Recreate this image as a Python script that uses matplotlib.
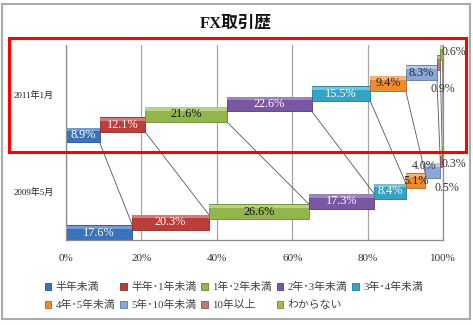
import matplotlib
matplotlib.use("Agg")
import matplotlib.pyplot as plt
from matplotlib.patches import Rectangle, Patch
import numpy as np

plt.rcParams['font.family'] = ['Liberation Serif', 'Noto Sans CJK JP', 'DejaVu Sans']

# ---- data ----
categories = ['2009年5月', '2011年1月']
series = ['半年未満', '半年･1年未満', '1年･2年未満', '2年･3年未満', '3年･4年未満',
          '4年･5年未満', '5年･10年未満', '10年以上', 'わからない']
values_2009 = [17.6, 20.3, 26.6, 17.3, 8.4, 5.1, 4.0, 0.5, 0.3]
values_2011 = [8.9, 12.1, 21.6, 22.6, 15.5, 9.4, 8.3, 0.9, 0.6]
xtick_values = [0, 20, 40, 60, 80, 100]
xtick_labels = ['0%', '20%', '40%', '60%', '80%', '100%']
title = 'FX取引歴'

# ---- style ----
colors = ['#3A72BC', '#BC3E3A', '#93B64C', '#7A57A5', '#35A4C4',
          '#F08A2C', '#8BA7D6', '#BE7A78', '#9BBB59']
highlights = ['#7FA6DA', '#E08A88', '#C4DA92', '#A891C6', '#86CCE0',
              '#F9BE86', '#C3D3EE', '#DDB0AE', '#C6DA9C']
edges = ['#24508A', '#8A2A28', '#6A8A30', '#54397A', '#217A92',
         '#B8621A', '#5A76A6', '#8A5050', '#6A8A30']
text_colors = ['white', 'white', '#111111', 'white', 'white',
               '#222222', '#1E2A4A', '#333333', '#333333']
# offsets (points) for labels of the tiny segments, per category
small_offsets = {
    (0, 6): (-6.5, 3.5), (0, 7): (4, -20), (0, 8): (8, -10),
    (1, 7): (3, -19), (1, 8): (9, 0),
}

bases = [0.0, 0.975]      # vertical base of each category's staircase
step = 0.1035             # vertical step between successive segments
h = 0.148                 # bar thickness

W, H = 473, 325
fig = plt.figure(figsize=(W / 100, H / 100), dpi=100)
ax = fig.add_axes([66 / W, (H - 240) / H, 377 / W, 195 / H])
ax.set_xlim(0, 100)
ax.set_ylim(-0.075, 1.875)

# grid
for xv in xtick_values:
    ax.axvline(xv, color='#A6A6A6' if xv != 0 else '#8C8C8C', lw=0.9, zorder=0)

all_vals = [values_2009, values_2011]
ends = [np.cumsum(v) for v in all_vals]
starts = [e - np.array(v) for e, v in zip(ends, all_vals)]

# series lines (from bottom-right of upper bar to top-right of lower bar)
for i in range(len(series)):
    ax.plot([ends[1][i], ends[0][i]],
            [bases[1] + i * step - h / 2, bases[0] + i * step + h / 2],
            color='#555555', lw=0.6, zorder=1)

for c, vals in enumerate(all_vals):
    for i, v in enumerate(vals):
        y = bases[c] + i * step
        ax.barh(y, v, left=starts[c][i], height=h, color=colors[i],
                edgecolor=edges[i], linewidth=0.6, zorder=2)
        ax.barh(y + h / 2 - h * 0.14, v, left=starts[c][i], height=h * 0.22,
                color=highlights[i], linewidth=0, zorder=3, alpha=0.8)
        xc = starts[c][i] + v / 2
        lab = f'{v:.1f}%'
        if (c, i) in small_offsets:
            ax.annotate(lab, (xc, y), xytext=small_offsets[(c, i)],
                        textcoords='offset points', ha='center', va='center',
                        fontsize=8.6, color='#333333', zorder=5)
        else:
            ax.text(xc, y, lab, ha='center', va='center', fontsize=8.8,
                    color=text_colors[i], zorder=5)

ax.set_xticks(xtick_values)
ax.set_xticklabels(xtick_labels, fontsize=8, color='#333333')
ax.set_yticks([b + 0.41 for b in bases])
ax.set_yticklabels(categories, fontsize=6.5, color='#222222',
                   family=['Liberation Serif', 'Noto Sans CJK JP'])
ax.tick_params(axis='x', length=0, pad=10)
ax.tick_params(axis='y', length=0, pad=9)
ax.spines['top'].set_visible(False)
for s in ['left', 'bottom', 'right']:
    ax.spines[s].set_color('#8C8C8C')
    ax.spines[s].set_linewidth(0.9)

# title
fig.text(236 / W, 1 - 24 / H, title, ha='center', va='center',
         fontsize=12, fontweight='bold', color='#111111')

# legend (row-major order)
handles = [Patch(facecolor=colors[i], edgecolor=edges[i], linewidth=0.6, label=series[i])
           for i in range(len(series))]
order = [0, 5, 1, 6, 2, 7, 3, 8, 4]
leg = fig.legend([handles[k] for k in order], [series[k] for k in order],
                 ncol=5, loc='center', bbox_to_anchor=(234 / W, 1 - 296 / H),
                 frameon=False, handlelength=0.6, handleheight=0.6,
                 handletextpad=0.4, columnspacing=0.45, labelspacing=0.75,
                 prop={'family': ['Liberation Serif', 'Noto Sans CJK JP'], 'size': 7.8})
for t in leg.get_texts():
    t.set_color('#404040')

# outer frame and red highlight box
fig.patches.append(Rectangle((2 / W, 1 - 319 / H), 468 / W, 315 / H,
                             transform=fig.transFigure, fill=False,
                             edgecolor='#ABABAB', lw=1.5))
fig.patches.append(Rectangle((9 / W, 1 - 152 / H), 457 / W, 114 / H,
                             transform=fig.transFigure, fill=False,
                             edgecolor='#FF0000', lw=2.2, zorder=10))

fig.savefig('out.png', dpi=100)
